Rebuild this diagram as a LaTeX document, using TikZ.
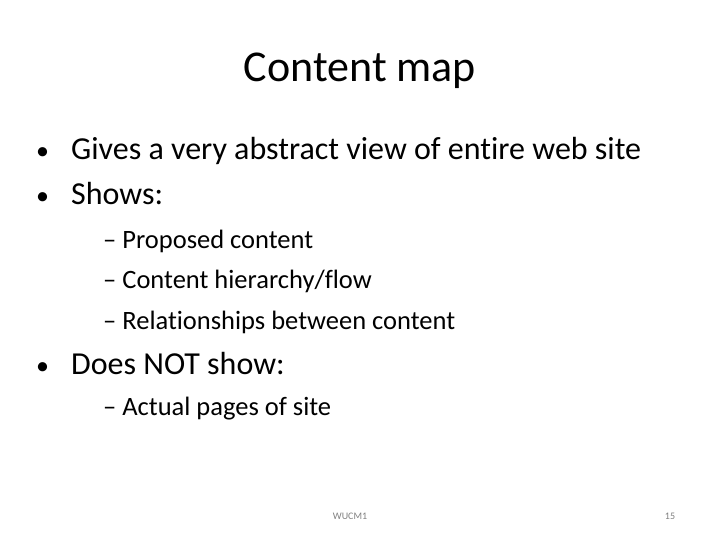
\documentclass[tikz,border=0pt]{standalone}
\usepackage{fontspec}
\setmainfont[Ligatures={NoCommon}]{Carlito}
\begin{document}
\begin{tikzpicture}[x=1pt,y=-1pt,
  bul/.style={anchor=base west,inner sep=0pt,font=\fontsize{26}{30}\selectfont},
  lone/.style={anchor=base west,inner sep=0pt,font=\fontsize{32}{36}\selectfont},
  ltwo/.style={anchor=base west,inner sep=0pt,font=\fontsize{26.5}{30}\selectfont}]
\useasboundingbox (0,0) rectangle (720,540);
\node[anchor=base,inner sep=0pt,font=\fontsize{44}{50}\selectfont] (title) at (360,82) {Content map};
\node[bul] (d1) at (36,160) {•};
\node[lone] (b1) at (71,160) {Gives a very abstract view of entire web site};
\node[bul] (d2) at (36,205) {•};
\node[lone] (b2) at (71,205) {Shows:};
\node[ltwo] (s1) at (103,248) {– Proposed content};
\node[ltwo] (s2) at (103,288) {– Content hierarchy/flow};
\node[ltwo] (s3) at (103,329) {– Relationships between content};
\node[bul] (d3) at (36,374) {•};
\node[lone] (b3) at (71,374) {Does NOT show:};
\node[ltwo] (s4) at (103,415) {– Actual pages of site};
\node[anchor=base,inner sep=0pt,font=\fontsize{10}{12}\selectfont,text=gray] (f1) at (350,519) {WUCM1};
\node[anchor=base,inner sep=0pt,font=\fontsize{10}{12}\selectfont,text=gray] (f2) at (670,519) {15};
\end{tikzpicture}
\end{document}
